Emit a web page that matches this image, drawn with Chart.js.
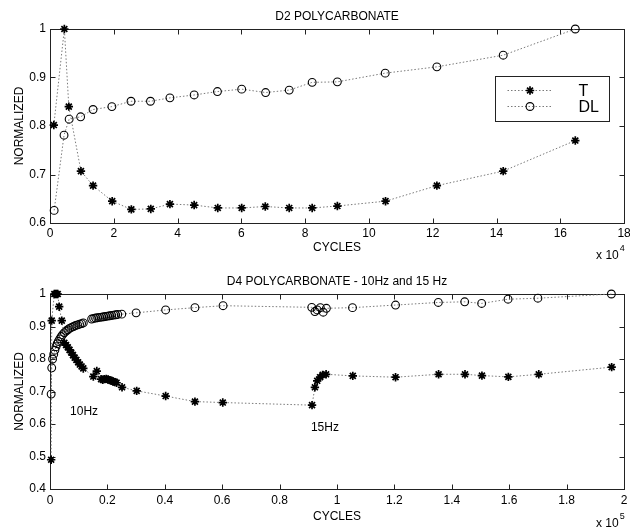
<!DOCTYPE html>
<html lang="en">
<head>
<meta charset="UTF-8">
<title>D2 / D4 Polycarbonate</title>
<script src="https://cdn.jsdelivr.net/npm/chart.js"></script>
<style>
  body { margin: 0; background: #fff; }
  canvas { position: absolute; left: 0; }
</style>
</head>
<body>
<canvas id="topChart" width="630" height="262" style="top:0"></canvas>
<canvas id="botChart" width="630" height="270" style="top:262px"></canvas>
<script>
// D2 polycarbonate, cycles in units of 1e4
const topTx = [0.12, 0.45, 0.59, 0.97, 1.35, 1.95, 2.55, 3.16, 3.76, 4.52, 5.26, 6.01, 6.75, 7.5, 8.22, 9.01, 10.52, 12.13, 14.21, 16.47];
const topTy = [0.802, 1.0, 0.84, 0.707, 0.677, 0.645, 0.628, 0.629, 0.639, 0.637, 0.631, 0.631, 0.634, 0.631, 0.631, 0.635, 0.645, 0.677, 0.707, 0.77];
const topDx = [0.13, 0.44, 0.6, 0.96, 1.35, 1.94, 2.54, 3.15, 3.76, 4.52, 5.25, 6.01, 6.76, 7.5, 8.22, 9.01, 10.51, 12.13, 14.21, 16.47];
const topDy = [0.626, 0.781, 0.814, 0.819, 0.834, 0.84, 0.851, 0.851, 0.858, 0.864, 0.871, 0.876, 0.869, 0.874, 0.89, 0.891, 0.909, 0.922, 0.946, 1.0];

// D4 polycarbonate 10Hz + 15Hz, cycles in units of 1e5
const botTx = [0.004, 0.006, 0.015, 0.019, 0.023, 0.027, 0.032, 0.041, 0.05, 0.056,
  0.062, 0.068, 0.074, 0.08, 0.086, 0.092, 0.098, 0.104, 0.11, 0.116,
  0.151, 0.163, 0.178, 0.184, 0.19, 0.196, 0.202, 0.208, 0.214, 0.22,
  0.226, 0.232, 0.251, 0.302, 0.403, 0.505, 0.602, 0.913, 0.923, 0.931,
  0.941, 0.95, 0.962, 1.055, 1.204, 1.354, 1.446, 1.505, 1.597, 1.703, 1.957];
const botTy = [0.49, 0.918, 1.0, 1.0, 1.0, 1.0, 0.961, 0.918, 0.85, 0.843,
  0.836, 0.828, 0.82, 0.812, 0.804, 0.797, 0.79, 0.783, 0.777, 0.771,
  0.746, 0.763, 0.738, 0.736, 0.738, 0.739, 0.737, 0.735, 0.733, 0.731,
  0.729, 0.727, 0.713, 0.702, 0.686, 0.669, 0.666, 0.658, 0.713, 0.733,
  0.744, 0.751, 0.753, 0.748, 0.744, 0.753, 0.753, 0.749, 0.745, 0.753, 0.775];
const botDx = [0.004, 0.006, 0.009, 0.013, 0.017, 0.021, 0.025, 0.029, 0.034, 0.039,
  0.044, 0.05, 0.056, 0.062, 0.068, 0.075, 0.082, 0.089, 0.096, 0.103,
  0.11, 0.116, 0.145, 0.152, 0.159, 0.166, 0.173, 0.18, 0.187, 0.194,
  0.201, 0.208, 0.215, 0.222, 0.229, 0.236, 0.25, 0.3, 0.403, 0.505,
  0.603, 0.912, 0.923, 0.931, 0.942, 0.952, 0.963, 1.054, 1.204, 1.353,
  1.445, 1.504, 1.596, 1.7, 1.956];
const botDy = [0.692, 0.773, 0.80, 0.815, 0.827, 0.838, 0.847, 0.854, 0.862, 0.869,
  0.875, 0.881, 0.886, 0.89, 0.894, 0.897, 0.9, 0.903, 0.905, 0.907,
  0.909, 0.911, 0.923, 0.925, 0.926, 0.927, 0.928, 0.929, 0.93, 0.931,
  0.932, 0.933, 0.934, 0.935, 0.936, 0.937, 0.938, 0.942, 0.951, 0.958,
  0.964, 0.959, 0.946, 0.951, 0.958, 0.944, 0.956, 0.958, 0.966, 0.974,
  0.976, 0.971, 0.984, 0.987, 1.0];

const topXTicks = [0, 2, 4, 6, 8, 10, 12, 14, 16, 18];
const topYTicks = [0.6, 0.7, 0.8, 0.9, 1];
const botXTicks = [0, 0.2, 0.4, 0.6, 0.8, 1, 1.2, 1.4, 1.6, 1.8, 2];
const botYTicks = [0.4, 0.5, 0.6, 0.7, 0.8, 0.9, 1];

const FONT = '"Liberation Sans", Arial, sans-serif';
const INK = '#000';
const LINE = '#7a7a7a';
const STAR_R = 4.2, CIRCLE_R = 3.9;

function pts(xs, ys) {
  return xs.map((x, i) => ({ x: x, y: ys[i] }));
}

function drawMarker(ctx, style, x, y) {
  ctx.beginPath();
  if (style === 'star') {
    const r = STAR_R, d = r * Math.SQRT1_2;
    ctx.moveTo(x - r, y); ctx.lineTo(x + r, y);
    ctx.moveTo(x, y - r); ctx.lineTo(x, y + r);
    ctx.moveTo(x - d, y - d); ctx.lineTo(x + d, y + d);
    ctx.moveTo(x - d, y + d); ctx.lineTo(x + d, y - d);
    ctx.lineWidth = 1.7;
  } else {
    ctx.arc(x, y, CIRCLE_R, 0, Math.PI * 2);
    ctx.lineWidth = 1.1;
  }
  ctx.strokeStyle = INK;
  ctx.stroke();
}

// box, inward ticks, legend, notes and the x 10^n label
const frame = {
  id: 'frame',
  beforeDatasetsDraw(chart, args, opts) {
    const { ctx, chartArea: a, scales } = chart;
    ctx.save();
    ctx.strokeStyle = '#222';
    ctx.lineWidth = 1;
    const L = Math.round(a.left) + 0.5, R = Math.round(a.right) + 0.5;
    const T = Math.round(a.top) + 0.5, B = Math.round(a.bottom) + 0.5;
    ctx.strokeRect(L, T, R - L, B - T);
    ctx.beginPath();
    scales.x.ticks.forEach(t => {
      const px = Math.round(scales.x.getPixelForValue(t.value)) + 0.5;
      ctx.moveTo(px, B); ctx.lineTo(px, B - 5);
      ctx.moveTo(px, T); ctx.lineTo(px, T + 5);
    });
    scales.y.ticks.forEach(t => {
      const py = Math.round(scales.y.getPixelForValue(t.value)) + 0.5;
      ctx.moveTo(L, py); ctx.lineTo(L + 5, py);
      ctx.moveTo(R, py); ctx.lineTo(R - 5, py);
    });
    ctx.stroke();
    ctx.restore();
  },
  afterDatasetsDraw(chart, args, opts) {
    const { ctx, chartArea: a, scales } = chart;
    ctx.save();
    ctx.fillStyle = INK;
    ctx.textBaseline = 'middle';
    ctx.textAlign = 'left';

    (opts.notes || []).forEach(n => {
      ctx.font = '12px ' + FONT;
      ctx.fillText(n.text, scales.x.getPixelForValue(n.x), scales.y.getPixelForValue(n.y));
    });

    // x 10^n
    ctx.font = '12px ' + FONT;
    const ex = a.right - 28, ey = chart.height - opts.expUp;
    ctx.fillText('x 10', ex, ey);
    const w = ctx.measureText('x 10').width;
    ctx.font = '9px ' + FONT;
    ctx.fillText(opts.exp, ex + w + 1, ey - 7);

    if (opts.legend) {
      const bx = Math.round(a.right - 129) + 0.5, by = Math.round(a.top + 47) + 0.5;
      ctx.fillStyle = '#fff';
      ctx.fillRect(bx, by, 114, 45);
      ctx.strokeStyle = '#222';
      ctx.lineWidth = 1;
      ctx.strokeRect(bx, by, 114, 45);
      chart.data.datasets.forEach((ds, i) => {
        const ry = by + 14 + i * 16;
        ctx.beginPath();
        ctx.setLineDash([1.5, 2]);
        ctx.strokeStyle = LINE;
        ctx.lineWidth = 1;
        ctx.moveTo(bx + 12, ry); ctx.lineTo(bx + 57, ry);
        ctx.stroke();
        ctx.setLineDash([]);
        drawMarker(ctx, ds.pointStyle, bx + 34.5, ry);
        ctx.fillStyle = INK;
        ctx.font = '16px ' + FONT;
        ctx.fillText(ds.label, bx + 83, ry + 1);
      });
    }
    ctx.restore();
  }
};

function makeChart(id, cfg) {
  const tickFont = { family: FONT, size: 12 };
  return new Chart(document.getElementById(id), {
    type: 'line',
    data: {
      datasets: [
        {
          label: 'T', data: pts(cfg.tx, cfg.ty),
          pointStyle: 'star', pointRadius: STAR_R, pointBorderWidth: 1.7,
          pointBorderColor: INK, pointBackgroundColor: INK,
          borderColor: LINE, borderWidth: 1, borderDash: [1.5, 2],
          fill: false, tension: 0, clip: false
        },
        {
          label: 'DL', data: pts(cfg.dx, cfg.dy),
          pointStyle: 'circle', pointRadius: CIRCLE_R, pointBorderWidth: 1.1,
          pointBorderColor: INK, pointBackgroundColor: 'rgba(0,0,0,0)',
          borderColor: LINE, borderWidth: 1, borderDash: [1.5, 2],
          fill: false, tension: 0, clip: false
        }
      ]
    },
    options: {
      responsive: false,
      animation: false,
      events: [],
      layout: { padding: { left: 0, right: cfg.padRight, top: 0, bottom: 0 } },
      plugins: {
        legend: { display: false },
        tooltip: { enabled: false },
        title: {
          display: true, text: cfg.title, fullSize: false, color: INK,
          font: { family: FONT, size: 12, weight: 'normal' },
          padding: cfg.titlePad
        },
        frame: { exp: cfg.exp, expUp: cfg.expUp, legend: cfg.legend, notes: cfg.notes }
      },
      scales: {
        x: {
          type: 'linear', min: cfg.xTicks[0], max: cfg.xTicks[cfg.xTicks.length - 1],
          grid: { display: false, drawTicks: false },
          border: { display: false },
          ticks: { color: INK, font: tickFont, padding: cfg.xTickPad, maxRotation: 0, autoSkip: false, callback: v => String(v) },
          title: { display: true, text: 'CYCLES', color: INK, font: tickFont, padding: { top: 0, bottom: cfg.xTitlePad } },
          afterBuildTicks: s => { s.ticks = cfg.xTicks.map(v => ({ value: v })); },
          afterFit: s => { s.height = cfg.xH; s.paddingLeft = 0; s.paddingRight = 0; }
        },
        y: {
          type: 'linear', min: cfg.yTicks[0], max: cfg.yTicks[cfg.yTicks.length - 1],
          grid: { display: false, drawTicks: false },
          border: { display: false },
          ticks: { color: INK, font: tickFont, padding: 4, autoSkip: false, callback: v => String(v) },
          title: { display: true, text: 'NORMALIZED', color: INK, font: tickFont, padding: { top: 12, bottom: 0 } },
          afterBuildTicks: s => { s.ticks = cfg.yTicks.map(v => ({ value: v })); },
          afterFit: s => { s.width = 50; }
        }
      }
    },
    plugins: [frame]
  });
}

makeChart('topChart', {
  title: 'D2 POLYCARBONATE',
  tx: topTx, ty: topTy, dx: topDx, dy: topDy,
  xTicks: topXTicks, yTicks: topYTicks,
  titlePad: { top: 9, bottom: 5.6 },
  xH: 39, xTickPad: 3, xTitlePad: 6.8, padRight: 5,
  exp: '4', expUp: 6, legend: true, notes: []
});

makeChart('botChart', {
  title: 'D4 POLYCARBONATE - 10Hz and 15 Hz',
  tx: botTx, ty: botTy, dx: botDx, dy: botDy,
  xTicks: botXTicks, yTicks: botYTicks,
  titlePad: { top: 12.8, bottom: 4.8 },
  xH: 43, xTickPad: 4, xTitlePad: 7.8, padRight: 6,
  exp: '5', expUp: 8, legend: false,
  notes: [{ text: '10Hz', x: 0.07, y: 0.637 }, { text: '15Hz', x: 0.909, y: 0.588 }]
});
</script>
</body>
</html>
